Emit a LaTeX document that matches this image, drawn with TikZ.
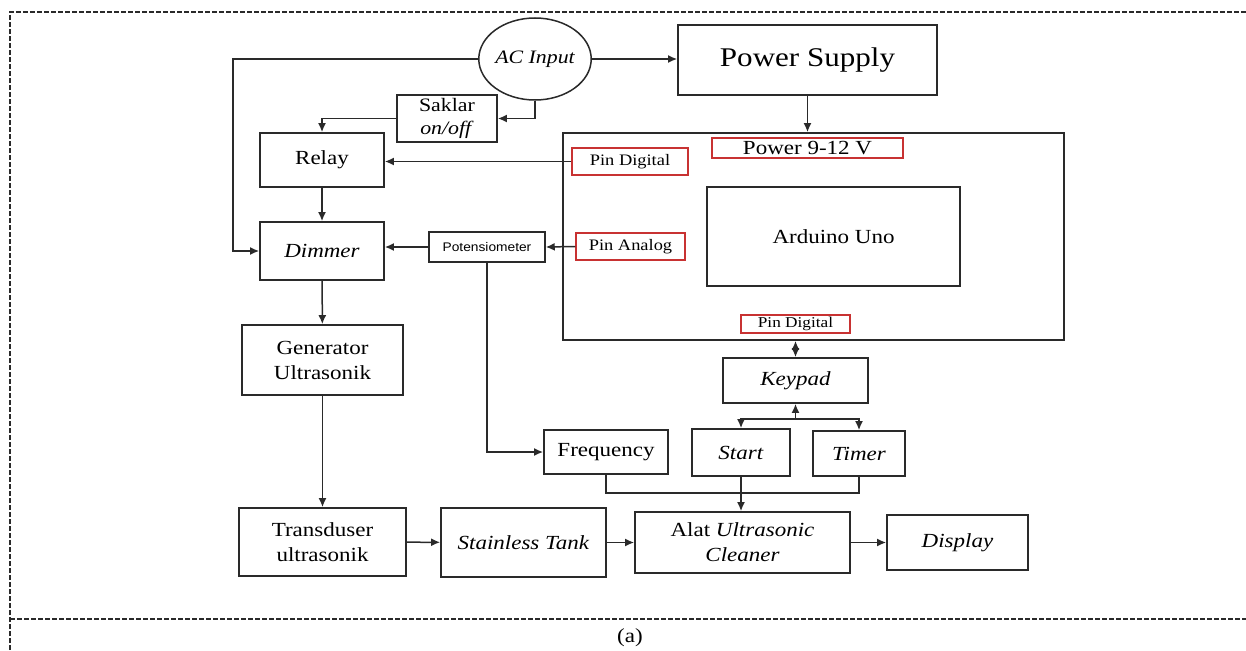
\documentclass[tikz,border=0pt]{standalone}
\usepackage{fontspec}
\setmainfont{Liberation Serif}[FakeStretch=1.15]
\newfontfamily\potfont{Liberation Sans}[FakeStretch=1.1]
\usetikzlibrary{arrows.meta,shapes.geometric}
\definecolor{garis}{HTML}{2A2A2A}
\definecolor{pinmerah}{HTML}{C83232}

\begin{document}
\begin{tikzpicture}[x=1pt,y=-1pt,
  blok/.style={draw=garis,line width=1.8pt,rectangle,inner sep=0pt,align=center,font=\fontsize{20}{25}\selectfont},
  pin/.style={draw=pinmerah,line width=1.5pt,rectangle,inner sep=0pt,font=\fontsize{16}{18}\selectfont},
  arr/.style={draw=garis,line width=1.5pt,-{Latex[length=9pt,width=8pt]}},
  lin/.style={draw=garis,line width=1.5pt}]
\useasboundingbox (0,0) rectangle (1246,650);
% frame
\draw[garis,line width=1.2pt,dash pattern=on 5pt off 2pt] (10,650) -- (10,12) -- (1246,12);
\draw[garis,line width=1.2pt,dash pattern=on 5pt off 2pt] (10,619) -- (1246,619);
\node[font=\fontsize{20}{22}\selectfont] (cap) at (630,638) {(a)};
% power side
\node[draw=garis,line width=1.5pt,ellipse,minimum width=95pt,minimum height=82pt,inner sep=0pt,font=\fontsize{19}{22}\selectfont\itshape] (acin) at (535,59) {AC Input};
\node[blok,minimum width=259pt,minimum height=70pt,font=\fontsize{27}{30}\selectfont] (psu) at (807.5,60) {Power Supply};
\node[blok,minimum width=100pt,minimum height=47pt,font=\fontsize{19}{23}\selectfont] (saklar) at (447,118.5) {Saklar\\\textit{on/off}};
\node[blok,minimum width=124pt,minimum height=54pt] (relay) at (322,160) {Relay};
\node[blok,minimum width=124pt,minimum height=58pt] (dimmer) at (322,251) {\textit{Dimmer}};
\node[blok,line width=1.5pt,minimum width=116pt,minimum height=30pt,font=\fontsize{12.5}{14}\potfont] (poten) at (487,247) {Potensiometer};
\node[blok,minimum width=161pt,minimum height=70pt] (gen) at (322.5,360) {Generator\\Ultrasonik};
\node[blok,minimum width=167pt,minimum height=68pt] (trans) at (322.5,542) {Transduser\\ultrasonik};
\node[blok,minimum width=165pt,minimum height=69pt] (tank) at (523.5,542.5) {\textit{Stainless Tank}};
\node[blok,minimum width=215pt,minimum height=61pt] (alat) at (742.5,542.5) {Alat \textit{Ultrasonic}\\\textit{Cleaner}};
\node[blok,minimum width=141pt,minimum height=55pt] (disp) at (957.5,542.5) {\textit{Display}};
% arduino board
\node[blok,minimum width=501pt,minimum height=207pt] (board) at (813.5,236.5) {};
\node[blok,minimum width=253pt,minimum height=99pt] (uno) at (833.5,236.5) {Arduino Uno};
\node[pin,minimum width=191pt,minimum height=20pt,font=\fontsize{20}{22}\selectfont] (pwr) at (807.5,148) {Power 9-12 V};
\node[pin,minimum width=116pt,minimum height=27pt] (pindig) at (630,161.5) {Pin Digital};
\node[pin,minimum width=109pt,minimum height=27pt] (pinana) at (630.5,246.5) {Pin Analog};
\node[pin,minimum width=109pt,minimum height=18pt,font=\fontsize{15}{16}\selectfont] (pinkey) at (795.5,324) {Pin Digital};
% input keys
\node[blok,minimum width=145pt,minimum height=45pt] (keypad) at (795.5,380.5) {\textit{Keypad}};
\node[blok,minimum width=124pt,minimum height=44pt] (freq) at (606,452) {Frequency};
\node[blok,minimum width=98pt,minimum height=47pt] (start) at (741,452.5) {\textit{Start}};
\node[blok,minimum width=92pt,minimum height=45pt] (timer) at (859,453.5) {\textit{Timer}};
\coordinate (kiri) at (233,59);
\coordinate (kj) at (795.5,419);
\coordinate (mj) at (741,493);
% connectors
\draw[arr] (acin.west) -- (kiri) |- (dimmer.west);
\draw[arr] (acin.east) -- (acin.east -| psu.west);
\draw[arr] (acin.south) |- (saklar.east);
\draw[arr] (saklar.west) -| (relay.north);
\draw[arr] (pindig.west) -- (pindig.west -| relay.east);
\draw[arr] (relay) -- (dimmer);
\draw[arr] (pinana.west) -- (poten.east);
\draw[arr] (poten.west) -- (poten.west -| dimmer.east);
\draw[arr] (poten.south) |- (freq.west);
\draw[arr] (dimmer) -- (gen);
\draw[arr] (gen) -- (trans);
\draw[arr] (trans) -- (tank);
\draw[arr] (tank) -- (alat);
\draw[arr] (alat) -- (disp);
\draw[arr] (psu) -- (psu.south |- board.north);
\draw[arr,{Latex[length=9pt,width=8pt]}-{Latex[length=9pt,width=8pt]}] (keypad.north |- board.south) -- (keypad.north);
\draw[arr] (kj) -- (keypad.south);
\draw[arr] (kj) -| (start.north);
\draw[arr] (kj) -| (timer.north);
\draw[lin] (freq.south) |- (mj);
\draw[lin] (timer.south) |- (mj);
\draw[arr] (start.south) -- (start.south |- alat.north);
\end{tikzpicture}
\end{document}
